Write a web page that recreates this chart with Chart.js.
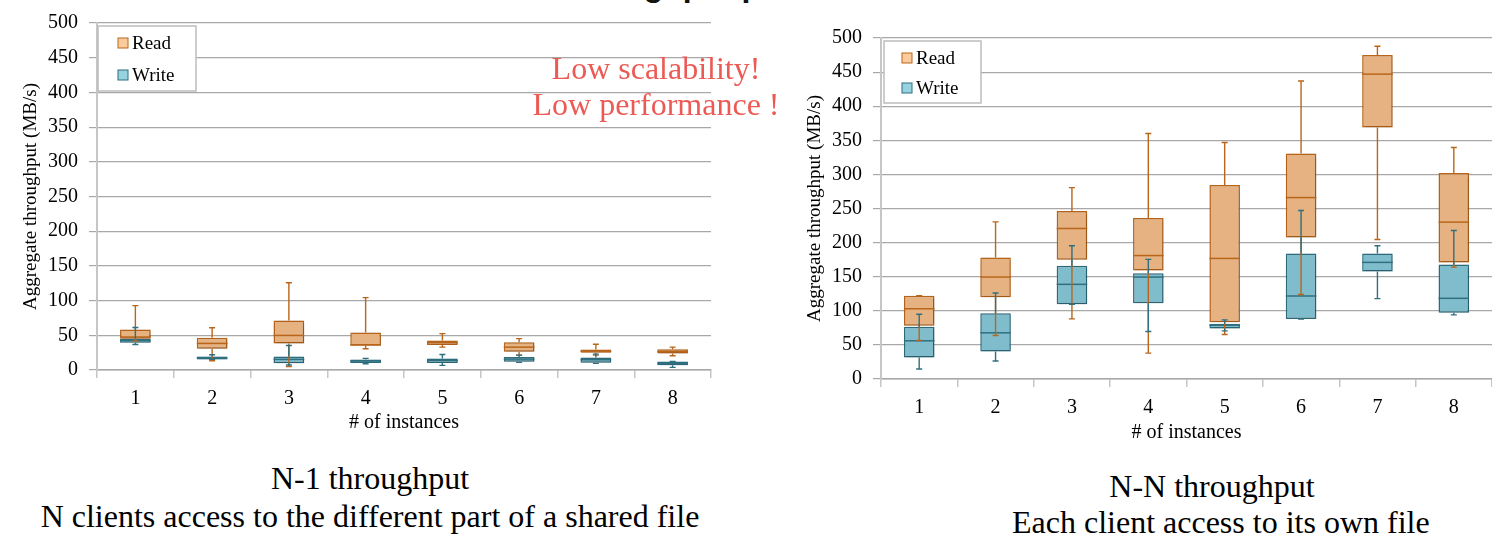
<!DOCTYPE html>
<html>
<head>
<meta charset="utf-8">
<script src="https://cdn.jsdelivr.net/npm/chart.js@4.4.0/dist/chart.umd.min.js"></script>
<style>
  body { margin: 0; width: 1492px; height: 534px; background: #fff; position: relative; overflow: hidden; font-family: "Liberation Serif", serif; }
  #wrapA { position: absolute; left: 0; top: 0; width: 740px; height: 440px; }
  #wrapB { position: absolute; left: 780px; top: 0; width: 712px; height: 450px; }
  .headline { position: absolute; left: 553px; top: -31px; font: bold 32px "Liberation Sans", Arial, sans-serif; line-height: 32px; white-space: nowrap; color: #111; }
  .note { position: absolute; left: 456px; top: 50px; width: 400px; text-align: center; color: #EC5A55; font-size: 32px; line-height: 36px; }
  .cap { position: absolute; text-align: center; font-size: 32px; color: #000; white-space: nowrap; }
</style>
</head>
<body>
<div class="headline">Throughput performance</div>
<div id="wrapA"><canvas id="chartA" width="740" height="440"></canvas></div>
<div id="wrapB"><canvas id="chartB" width="712" height="450"></canvas></div>
<div class="note">Low scalability!<br>Low performance !</div>
<div class="cap" style="left:0;width:740px;top:459px;line-height:38px;">N-1 throughput<br>N clients access to the different part of a shared file</div>
<div class="cap" style="left:1012px;width:400px;top:468px;line-height:36px;">N-N throughput<br>Each client access to its own file</div>

<script>
const instances = ["1", "2", "3", "4", "5", "6", "7", "8"];
const throughputTicks = [0, 50, 100, 150, 200, 250, 300, 350, 400, 450, 500];

// N-1 : shared file
const n1ReadMin    = [42, 13.4, 4.8, 30.6, 32.9, 21.5, 21.4, 20.5];
const n1ReadQ1     = [45, 30.6, 38.3, 35, 36.2, 26.2, 24.8, 23.8];
const n1ReadMedian = [47.5, 38.3, 49.8, 36.4, 39.5, 32.9, 27.1, 26.7];
const n1ReadQ3     = [58.4, 46.4, 71.3, 54, 42.4, 40, 29.5, 30];
const n1ReadMax    = [92.8, 60.8, 125.8, 104.3, 52.4, 45.2, 37.1, 32.9];

const n1WriteMin    = [36.8, 15.3, 7.2, 9.1, 6.7, 11, 9.5, 3.8];
const n1WriteQ1     = [39.2, 15.3, 9.6, 10, 10, 11.9, 10.5, 6.7];
const n1WriteMedian = [42.6, 17.7, 15.3, 12.9, 13.8, 15.7, 14.8, 9.5];
const n1WriteQ3     = [45, 19.6, 19.6, 15.3, 16.7, 18.6, 18.1, 12.4];
const n1WriteMax    = [61.2, 22, 35.4, 16.7, 22.4, 21.4, 22.9, 12.4];

// N-N : own file
const nnReadMin    = [56.5, 63.8, 88.2, 38, 65.2, 124, 204.6, 164];
const nnReadQ1     = [78, 119.8, 174.9, 159, 83.2, 207.5, 368.7, 171];
const nnReadMedian = [103, 149.5, 220.7, 181, 176.8, 266, 447, 230];
const nnReadQ3     = [122, 178.3, 246.5, 236, 284.4, 330.7, 475, 302];
const nnReadMax    = [122.3, 230.4, 280.6, 360, 346.8, 437, 488, 339.5];

const nnWriteMin    = [14.6, 26.3, 109.6, 69.7, 70.6, 88, 117.8, 94];
const nnWriteQ1     = [31.7, 40.4, 109.6, 111, 74, 88, 157.8, 97];
const nnWriteMedian = [56, 67.7, 138.8, 149.5, 78.9, 121.7, 171, 118.3];
const nnWriteQ3     = [76.5, 96.4, 166, 155, 81, 184, 184, 168];
const nnWriteMax    = [95, 126, 195.3, 175.4, 86.7, 247, 195.3, 217.7];

const READ_FILL = "#E6B282", READ_EDGE = "#B9661B", READ_KEY = "#FBCB9C";
const WRITE_FILL = "#80BDCC", WRITE_EDGE = "#2F6F80", WRITE_KEY = "#96D3E0";
const GRID = "#A8A8A8";
const AXIS = "#C6C6C6";
const SERIF = "'Liberation Serif', serif";

function boxDataset(label, min, q1, median, q3, max, fill, edge, key) {
  return {
    label: label,
    data: q1.map((v, i) => [v, q3[i]]),
    backgroundColor: fill,
    borderColor: edge,
    borderWidth: 1.5,
    borderSkipped: false,
    grouped: false,
    barPercentage: 0.4,
    categoryPercentage: 1,
    whiskerMin: min,
    median: median,
    whiskerMax: max,
    keyColor: key
  };
}

// medians + whiskers, drawn from the y scale
const boxPlot = {
  id: "boxPlot",
  beforeDatasetDraw(chart) {
    const ctx = chart.ctx;
    ctx.save();
    ctx.shadowColor = "rgba(0,0,0,0.25)";
    ctx.shadowBlur = 3;
    ctx.shadowOffsetX = 1;
    ctx.shadowOffsetY = 1;
  },
  afterDatasetDraw(chart) {
    chart.ctx.restore();
  },
  afterDatasetsDraw(chart) {
    const ctx = chart.ctx;
    const y = chart.scales.y;
    const sets = chart.data.datasets;

    ctx.save();
    ctx.lineWidth = 1.5;
    sets.forEach((ds, di) => {
      ctx.strokeStyle = ds.borderColor;
      chart.getDatasetMeta(di).data.forEach((bar, i) => {
        const p = bar.getProps(["x", "width"], true);
        const ym = y.getPixelForValue(ds.median[i]);
        ctx.beginPath();
        ctx.moveTo(p.x - p.width / 2, ym);
        ctx.lineTo(p.x + p.width / 2, ym);
        ctx.stroke();
      });
    });

    ctx.lineWidth = 1.4;
    sets.forEach((ds, di) => {
      ctx.strokeStyle = ds.borderColor;
      chart.getDatasetMeta(di).data.forEach((bar, i) => {
        const x = bar.getProps(["x"], true).x;
        const lo = y.getPixelForValue(ds.whiskerMin[i]);
        const q1 = y.getPixelForValue(ds.data[i][0]);
        const q3 = y.getPixelForValue(ds.data[i][1]);
        const hi = y.getPixelForValue(ds.whiskerMax[i]);
        ctx.beginPath();
        ctx.moveTo(x, q1); ctx.lineTo(x, lo);
        ctx.moveTo(x, q3); ctx.lineTo(x, hi);
        ctx.moveTo(x - 3, lo); ctx.lineTo(x + 3, lo);
        ctx.moveTo(x - 3, hi); ctx.lineTo(x + 3, hi);
        ctx.stroke();
      });
    });
    ctx.restore();
  }
};

// boxed legend in the top-left corner of the plot
const boxLegend = {
  id: "boxLegend",
  afterDraw(chart, args, o) {
    const ctx = chart.ctx;
    const a = chart.chartArea;
    const x0 = a.left + o.dx, y0 = a.top + o.dy;
    ctx.save();
    ctx.fillStyle = "#fff";
    ctx.fillRect(x0, y0, o.w, o.h);
    ctx.strokeStyle = "#BDBDBD";
    ctx.lineWidth = 1.5;
    ctx.strokeRect(x0, y0, o.w, o.h);
    ctx.font = "19px " + SERIF;
    ctx.textBaseline = "middle";
    chart.data.datasets.forEach((ds, i) => {
      const cy = a.top + o.rows[i];
      ctx.fillStyle = ds.keyColor;
      ctx.fillRect(a.left + 21, cy - 5, 10, 10);
      ctx.strokeStyle = ds.borderColor;
      ctx.lineWidth = 1;
      ctx.strokeRect(a.left + 21, cy - 5, 10, 10);
      ctx.fillStyle = "#000";
      ctx.fillText(ds.label, a.left + 35, cy + 1);
    });
    ctx.restore();
  }
};

function makeChart(id, datasets, pad, yWidth, xHeight, legend) {
  return new Chart(document.getElementById(id), {
    type: "bar",
    data: { labels: instances, datasets: datasets },
    options: {
      responsive: false,
      animation: false,
      layout: { padding: pad },
      plugins: {
        legend: { display: false },
        tooltip: { enabled: false },
        boxLegend: legend
      },
      scales: {
        x: {
          offset: true,
          afterFit: s => { s.height = xHeight; },
          border: { color: GRID, width: 1.5 },
          grid: { offset: true, drawOnChartArea: false, tickLength: 8, color: AXIS, lineWidth: 1.5 },
          ticks: { color: "#000", padding: 9, font: { family: SERIF, size: 20 } },
          title: { display: true, text: "# of instances", color: "#000", padding: { top: 0, bottom: 5 }, font: { family: SERIF, size: 20 } }
        },
        y: {
          min: 0,
          max: 500,
          afterFit: s => { s.width = yWidth; },
          afterBuildTicks: s => { s.ticks = throughputTicks.map(v => ({ value: v })); },
          border: { color: AXIS, width: 2 },
          grid: { color: GRID, lineWidth: 1.2, tickLength: 8, tickColor: GRID },
          ticks: { color: "#000", padding: 11, font: { family: SERIF, size: 20 } },
          title: { display: true, text: "Aggregate throughput (MB/s)", color: "#000", padding: 0, font: { family: SERIF, size: 19 } }
        }
      }
    },
    plugins: [boxPlot, boxLegend]
  });
}

makeChart("chartA", [
  boxDataset("Read", n1ReadMin, n1ReadQ1, n1ReadMedian, n1ReadQ3, n1ReadMax, READ_FILL, READ_EDGE, READ_KEY),
  boxDataset("Write", n1WriteMin, n1WriteQ1, n1WriteMedian, n1WriteQ3, n1WriteMax, WRITE_FILL, WRITE_EDGE, WRITE_KEY)
], { left: 20, top: 21, right: 29, bottom: 0 }, 77, 70,
  { dx: 1, dy: 3, w: 98, h: 65, rows: [20, 52] });

makeChart("chartB", [
  boxDataset("Read", nnReadMin, nnReadQ1, nnReadMedian, nnReadQ3, nnReadMax, READ_FILL, READ_EDGE, READ_KEY),
  boxDataset("Write", nnWriteMin, nnWriteQ1, nnWriteMedian, nnWriteQ3, nnWriteMax, WRITE_FILL, WRITE_EDGE, WRITE_KEY)
], { left: 24, top: 38, right: 0, bottom: 0 }, 77, 71,
  { dx: 3, dy: 3, w: 97, h: 62, rows: [20, 50] });
</script>
</body>
</html>
